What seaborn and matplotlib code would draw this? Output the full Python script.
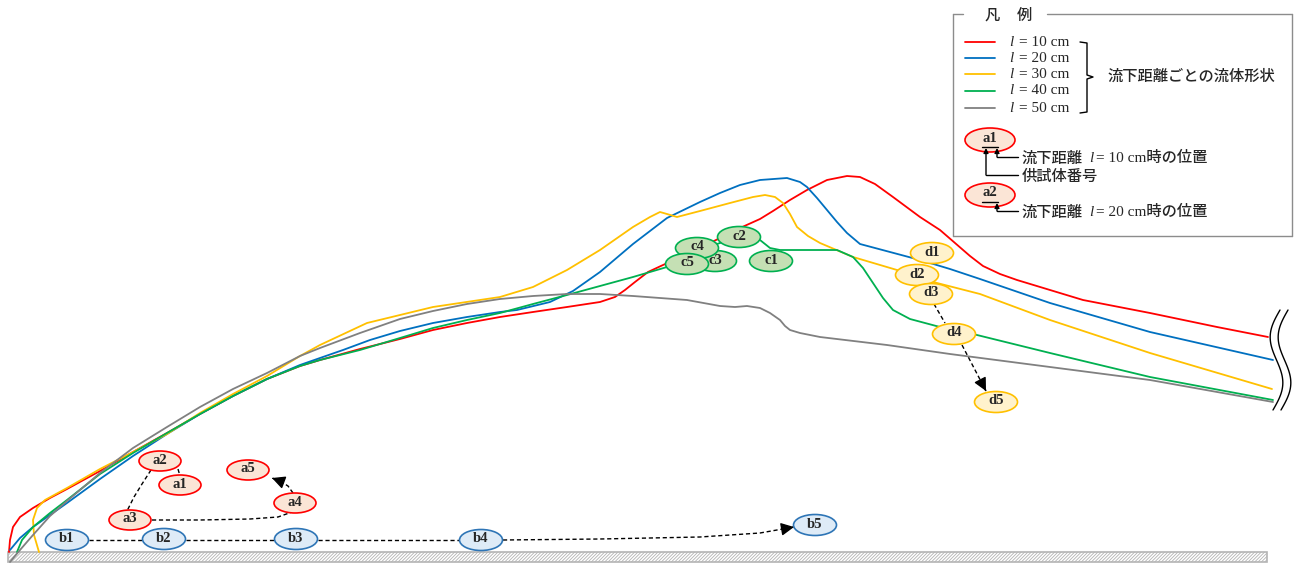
import numpy as np
import pandas as pd
import matplotlib
matplotlib.use("Agg")
import matplotlib.pyplot as plt
from matplotlib.patches import Ellipse, Rectangle
import seaborn as sns

# traced flow shapes (image px: x to the right, y downward)
red_x = [9, 10, 13, 20, 33, 50, 67, 100, 133, 167, 200, 233, 267, 300, 320, 360, 400, 433, 467, 500, 533, 567, 600, 615, 625, 635, 648, 663, 690, 720, 740, 760, 773, 790, 807, 827, 847, 860, 875, 893, 920, 940, 955, 970, 983, 1000, 1017, 1050, 1083, 1150, 1217, 1268]
red_y = [552, 540, 527, 517, 508, 498, 489, 471, 452, 433, 414, 396, 379, 366, 360, 349, 339, 330, 323, 317, 312, 307, 302, 297, 290, 282, 272, 265, 253, 238, 228, 219, 211, 200, 190, 180, 176, 177, 184, 197, 217, 230, 243, 256, 266, 274, 280, 290, 300, 313, 327, 337]

blue_x = [10, 20, 33, 67, 100, 133, 167, 200, 233, 267, 300, 320, 343, 370, 400, 433, 467, 500, 517, 550, 573, 600, 633, 667, 700, 720, 740, 760, 787, 800, 807, 817, 827, 837, 847, 860, 890, 920, 950, 980, 1050, 1150, 1273]
blue_y = [550, 538, 527, 503, 479, 456, 434, 414, 396, 379, 365, 358, 350, 340, 331, 323, 317, 312, 310, 302, 291, 272, 244, 218, 202, 193, 185, 180, 178, 182, 187, 198, 210, 222, 233, 244, 252, 260, 269, 279, 303, 332, 360]

yellow_x = [39, 34, 33, 37, 45, 67, 100, 133, 167, 200, 233, 267, 300, 320, 367, 433, 500, 533, 567, 600, 633, 650, 660, 667, 677, 700, 730, 753, 765, 775, 783, 790, 797, 808, 820, 853, 897, 937, 980, 1050, 1150, 1272]
yellow_y = [552, 535, 520, 508, 500, 488, 469, 452, 434, 413, 394, 376, 356, 345, 323, 307, 297, 287, 270, 250, 227, 217, 212, 214, 217, 211, 203, 197, 195, 197, 203, 214, 227, 236, 243, 257, 270, 283, 294, 320, 353, 389]

green_x = [17, 22, 33, 50, 67, 100, 133, 167, 200, 233, 267, 300, 320, 360, 400, 433, 467, 500, 533, 567, 600, 633, 667, 690, 705, 720, 738, 760, 770, 780, 803, 837, 853, 863, 873, 883, 893, 910, 940, 977, 1050, 1150, 1273]
green_y = [552, 540, 527, 513, 500, 474, 453, 433, 414, 396, 379, 366, 360, 350, 338, 328, 320, 313, 304, 295, 286, 277, 267, 258, 248, 243, 238, 240, 248, 250, 250, 250, 257, 268, 283, 298, 310, 319, 327, 335, 353, 377, 400]

gray_x = [10, 20, 33, 50, 67, 100, 133, 167, 200, 233, 267, 300, 320, 360, 400, 433, 467, 500, 533, 567, 600, 633, 687, 720, 735, 747, 760, 770, 780, 785, 790, 800, 820, 887, 950, 1050, 1150, 1273]
gray_y = [562, 550, 535, 516, 501, 473, 448, 427, 407, 389, 373, 356, 348, 333, 319, 311, 304, 299, 296, 294, 294, 296, 300, 306, 307, 306, 308, 313, 320, 326, 330, 333, 337, 345, 354, 367, 380, 402]

series_labels = ["l = 10 cm", "l = 20 cm", "l = 30 cm", "l = 40 cm", "l = 50 cm"]
series_colors = ["#ff0000", "#0070c0", "#ffc000", "#00b050", "#808080"]

# specimen positions
a_names = ["a1", "a2", "a3", "a4", "a5"]
a_x = [180, 160, 130, 295, 248]
a_y = [485, 461, 520, 503, 470]
b_names = ["b1", "b2", "b3", "b4", "b5"]
b_x = [67, 164, 296, 481, 815]
b_y = [540, 539, 539, 540, 525]
c_names = ["c1", "c2", "c3", "c5", "c4"]
c_x = [771, 739, 715, 687, 697]
c_y = [261, 237, 261, 264, 248]
c_draw = [0, 1, 2, 4, 3]  # drawing order (c5 on top)
d_names = ["d1", "d2", "d3", "d4", "d5"]
d_x = [932, 917, 931, 954, 996]
d_y = [253, 275, 294, 334, 402]

# dashed tracks between positions
track_a12 = ([178, 180], [469, 476])
track_a23 = ([151, 142, 134, 127], [470, 484, 497, 511])
track_a34 = ([152, 200, 250, 278, 292], [520, 520, 519, 517, 512])
track_a45 = ([293, 288, 280, 272], [493, 486, 481, 478])
track_b = ([89, 142], [540, 540]), ([186, 274], [540, 540]), ([318, 459], [540, 540])
track_b45 = ([503, 600, 700, 760, 794], [540, 539, 537, 533, 527])
track_d34 = ([934, 945], [304, 323])
track_d45 = ([962, 986], [345, 391])

sns.set_style("white")
plt.rcParams["font.family"] = ["Liberation Serif", "Noto Sans CJK JP", "DejaVu Sans"]
plt.rcParams["hatch.linewidth"] = 0.6

fig = plt.figure(figsize=(12.97, 5.64), dpi=100)
ax = fig.add_axes([0, 0, 1, 1])
ax.set_xlim(0, 1297)
ax.set_ylim(564, 0)
ax.axis("off")

# ground plate
ax.add_patch(Rectangle((8, 552), 1259, 10, facecolor="white", edgecolor="#b4b4b4",
                       hatch="//////////", linewidth=1.2, zorder=1))

# flow shapes
frames = []
for lab, xs, ys in zip(series_labels,
                       [red_x, blue_x, yellow_x, green_x, gray_x],
                       [red_y, blue_y, yellow_y, green_y, gray_y]):
    frames.append(pd.DataFrame({"x": xs, "y": ys, "series": lab}))
shapes = pd.concat(frames, ignore_index=True)
sns.lineplot(data=shapes, x="x", y="y", hue="series", units="series", estimator=None,
             sort=False, palette=dict(zip(series_labels, series_colors)),
             linewidth=1.3, legend=False, ax=ax, zorder=2)

# wavy break marks
wy = np.linspace(310, 410, 60)
for off in (0, 8):
    t = (wy - 310) / 100
    wx = 1280 + off - 7 * t - 8 * np.sin(t * 2 * np.pi)
    ax.plot(wx, wy, color="black", lw=1.0, zorder=3)

# dashed tracks
for tx, ty in [track_a12, track_a23, track_a34, track_a45, *track_b, track_b45, track_d34, track_d45]:
    sns.lineplot(x=tx, y=ty, sort=False, estimator=None, color="black",
                 linestyle=(0, (3, 2)), linewidth=1.0, ax=ax, zorder=3)
for tx, ty in [track_a45, track_b45, track_d45]:
    dx, dy = tx[-1] - tx[-2], ty[-1] - ty[-2]
    n = np.hypot(dx, dy)
    ax.annotate("", xy=(tx[-1], ty[-1]), xytext=(tx[-1] - dx / n, ty[-1] - dy / n),
                arrowprops=dict(arrowstyle="-|>,head_length=0.6,head_width=0.3",
                                color="black", lw=1.0, mutation_scale=13,
                                shrinkA=0, shrinkB=0), zorder=4)


def specimen(names, xs, ys, face, edge, order=None, w=43, h=21):
    idx = order if order is not None else range(len(names))
    for z, i in enumerate(idx):
        ax.add_patch(Ellipse((xs[i], ys[i]), w, h, facecolor=face, edgecolor=edge,
                             linewidth=1.2, zorder=5 + z * 0.01))
        ax.text(xs[i], ys[i] - 1, names[i], ha="center", va="center", fontsize=10.5,
                fontweight="bold", family="Liberation Serif", zorder=5.005 + z * 0.01)


specimen(a_names, a_x, a_y, "#fbe5d6", "#ff0000", w=42, h=20)
specimen(b_names, b_x, b_y, "#deebf7", "#2e75b6")
specimen(c_names, c_x, c_y, "#c5e0b4", "#00b050", order=c_draw)
specimen(d_names, d_x, d_y, "#fff2cc", "#ffc000")

# legend frame
fc = "#8c8c8c"
for lx, ly in [([953, 953], [14, 236]), ([953, 1292], [236, 236]), ([1292, 1292], [14, 236]),
               ([953, 963], [14, 14]), ([1047, 1292], [14, 14])]:
    ax.plot(lx, ly, color=fc, lw=1.0, zorder=6)
ax.text(992, 15, "凡", ha="center", va="center", fontsize=11, fontweight="medium",
        family="Noto Sans CJK JP", zorder=6)
ax.text(1024, 15, "例", ha="center", va="center", fontsize=11, fontweight="medium",
        family="Noto Sans CJK JP", zorder=6)

legend_y = [42, 58, 74, 91, 108]
for lab, col, ly in zip(series_labels, series_colors, legend_y):
    ax.plot([965, 995], [ly, ly], color=col, lw=1.3, zorder=6)
    ax.text(1009, ly, "l", ha="left", va="center", fontsize=11, style="italic",
            family="Liberation Serif", zorder=6)
    ax.text(1019, ly, lab[2:], ha="left", va="center", fontsize=11,
            family="Liberation Serif", zorder=6)
ax.plot([1080, 1087, 1087, 1093, 1087, 1087, 1080], [42, 43, 75, 77, 79, 112, 113],
        color="black", lw=1.0, zorder=6)
ax.text(1108, 76, "流下距離ごとの流体形状", ha="left", va="center", fontsize=11,
        fontweight="medium", family="Noto Sans CJK JP", zorder=6)

for name, cy in [("a1", 140), ("a2", 195)]:
    ax.add_patch(Ellipse((990, cy), 50, 24, facecolor="#fbe5d6", edgecolor="#ff0000",
                         linewidth=1.2, zorder=6))
    ax.text(990, cy - 2, name, ha="center", va="center", fontsize=10.5, fontweight="bold",
            family="Liberation Serif", zorder=7)
    ax.plot([982, 998], [cy + 7, cy + 7], color="black", lw=1.0, zorder=7)


def pointer(x0, y0, x1, y1):
    ax.plot([x0, x1], [y0, y0], color="black", lw=1.0, zorder=7)
    ax.annotate("", xy=(x1, y1), xytext=(x1, y0),
                arrowprops=dict(arrowstyle="-|>", color="black", lw=1.0, mutation_scale=7,
                                shrinkA=0, shrinkB=0), zorder=7)


pointer(1018, 157, 997, 148)
pointer(1018, 175, 986, 148)
pointer(1018, 211, 997, 203)


def mixed(y, dist):
    ax.text(1022, y, "流下距離", ha="left", va="center", fontsize=11, fontweight="medium",
            family="Noto Sans CJK JP", zorder=7)
    ax.text(1089, y, "l", ha="left", va="center", fontsize=11, style="italic",
            family="Liberation Serif", zorder=7)
    ax.text(1096, y, "= " + dist + " cm時の位置", ha="left", va="center", fontsize=11,
            fontweight="medium", family=["Liberation Serif", "Noto Sans CJK JP"], zorder=7)


mixed(158, "10")
ax.text(1022, 176, "供試体番号", ha="left", va="center", fontsize=11, fontweight="medium",
        family="Noto Sans CJK JP", zorder=7)
mixed(212, "20")

fig.savefig("out.png", dpi=100)
